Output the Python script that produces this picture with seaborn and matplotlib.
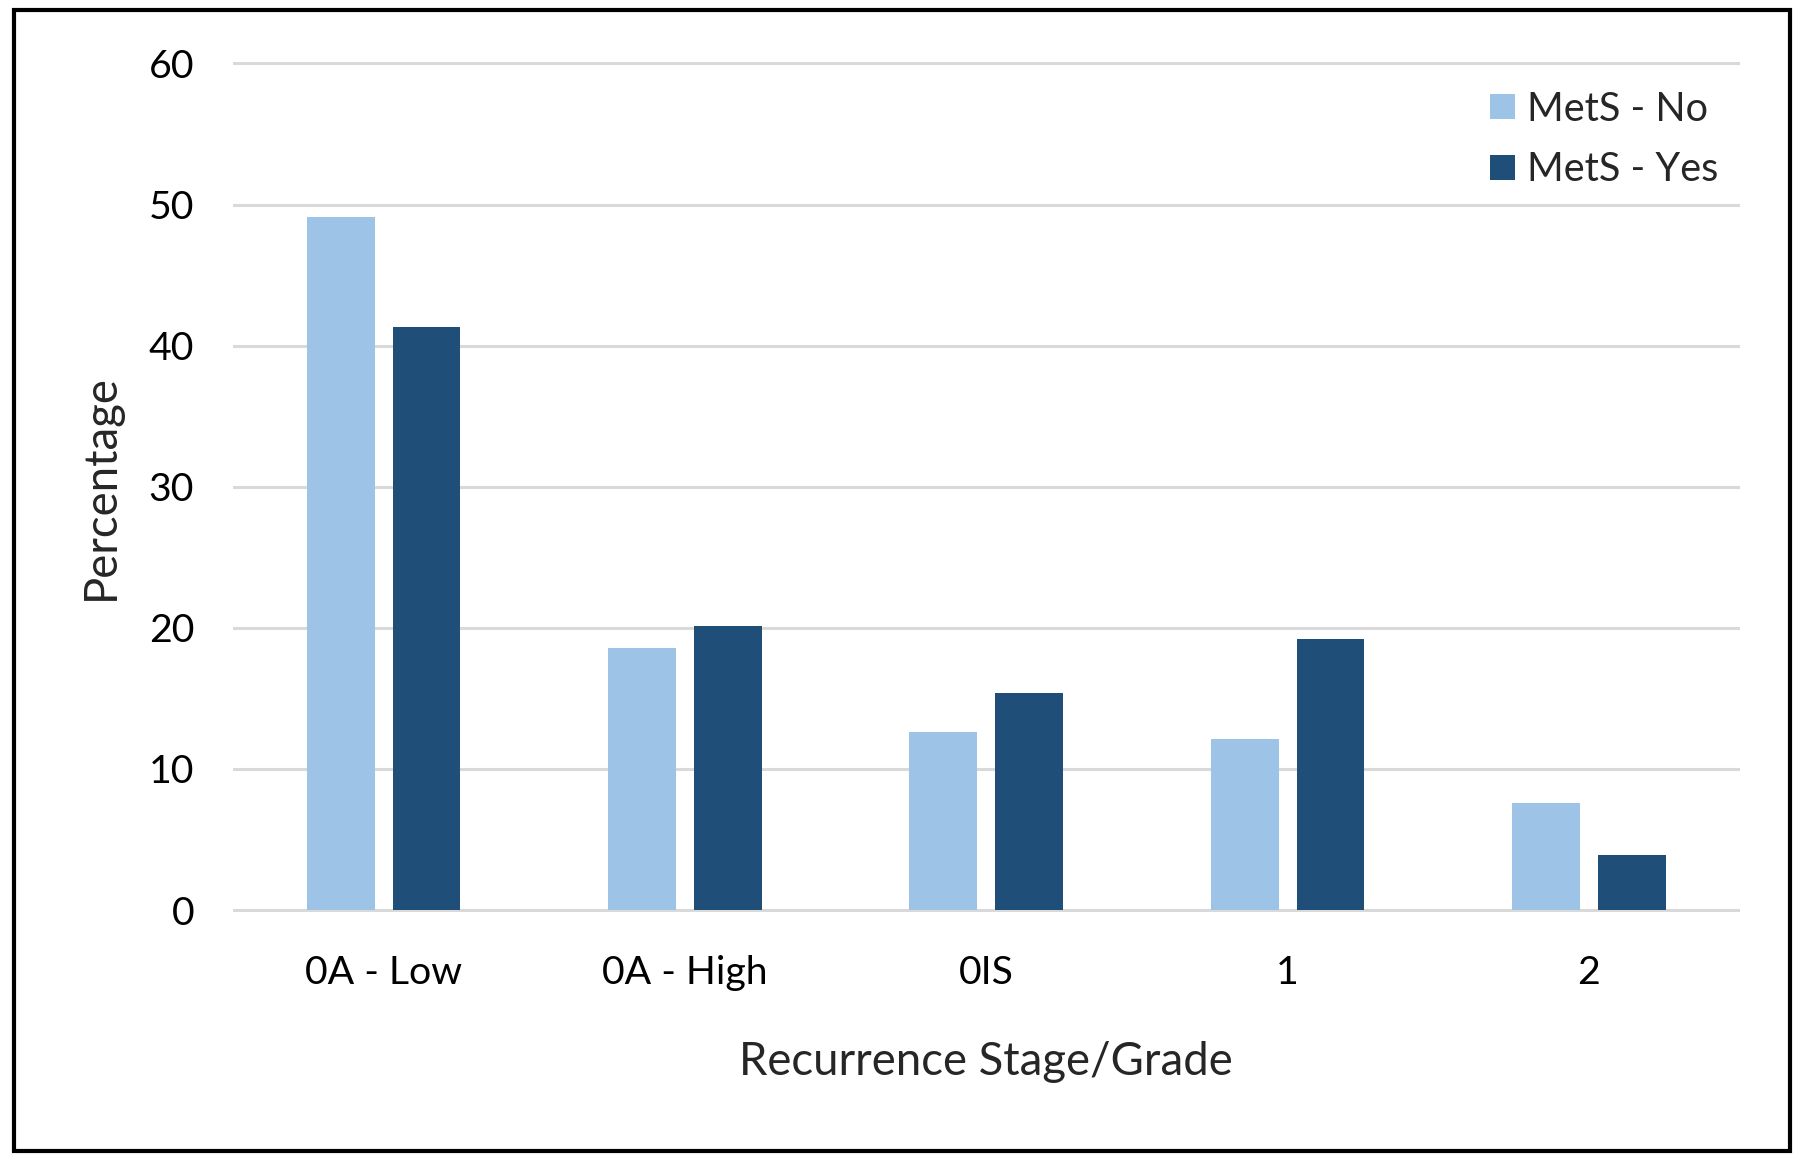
import numpy as np
import pandas as pd
import matplotlib.pyplot as plt
import seaborn as sns
from matplotlib.patches import Rectangle

stages = ['0A - Low', '0A - High', '0IS', '1', '2']
mets_no = [49.1, 18.6, 12.6, 12.1, 7.6]
mets_yes = [41.3, 20.1, 15.4, 19.2, 3.9]
groups = ['MetS - No', 'MetS - Yes']
colors = ['#9DC3E6', '#1F4E79']

df = pd.DataFrame({
    'Stage': stages * 2,
    'Percentage': mets_no + mets_yes,
    'Group': [groups[0]] * len(stages) + [groups[1]] * len(stages),
})

sns.set_style('white')
plt.rcParams['font.family'] = ['Lato', 'DejaVu Sans']

fig = plt.figure(figsize=(18, 11.61), dpi=100)
ax = fig.add_axes([0.1294, 0.2149, 0.837, 0.7317])

sns.barplot(data=df, x='Stage', y='Percentage', hue='Group', order=stages,
            hue_order=groups, palette=colors, width=0.57, gap=0.21,
            linewidth=0, saturation=1, ax=ax)

ax.set_ylim(-0.1, 60.1)
ax.set_xlim(-0.5, 4.5)
ax.set_yticks(np.arange(0, 61, 10))
ax.yaxis.grid(True, color='#D9D9D9', linewidth=2.2)
ax.set_axisbelow(True)
sns.despine(ax=ax, left=True, bottom=True)
ax.tick_params(axis='both', length=0, labelsize=28.3, colors='black')
ax.tick_params(axis='y', pad=28)
ax.tick_params(axis='x', pad=31)

ax.set_xlabel('Recurrence Stage/Grade', fontsize=32.8, labelpad=36)
ax.set_ylabel('Percentage', fontsize=32.8, labelpad=19)

ax.legend(loc='upper left', bbox_to_anchor=(0.828, 0.922),
          bbox_transform=fig.transFigure, frameon=False, fontsize=28.5,
          handlelength=0.62, handleheight=0.62, handletextpad=0.3,
          labelspacing=0.6, borderpad=0, borderaxespad=0)

fig.patches.append(Rectangle((0.0075, 0.009), 0.987, 0.982, transform=fig.transFigure,
                             fill=False, edgecolor='black', linewidth=3))

fig.savefig('out.png', dpi=100)
